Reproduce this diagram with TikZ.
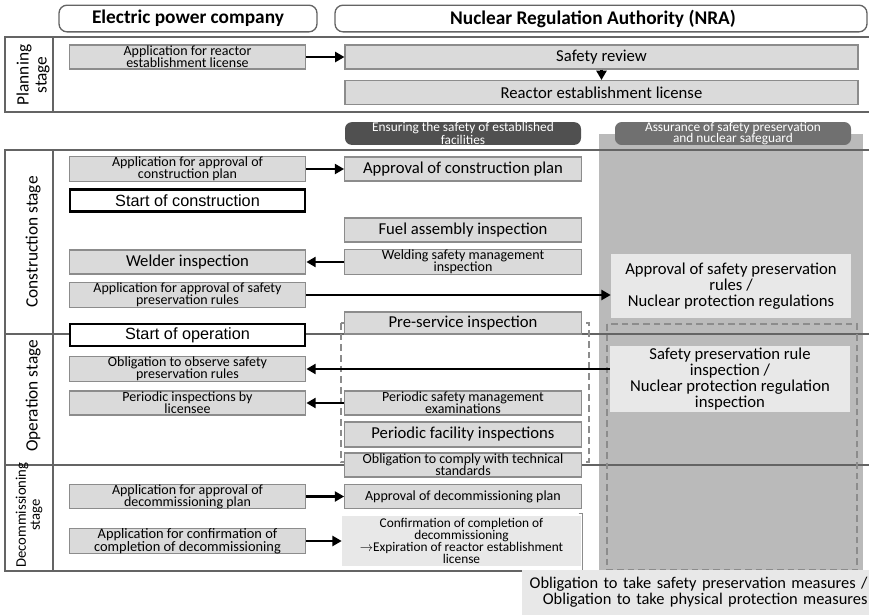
\documentclass[tikz,border=0pt]{standalone}
\usepackage{fontspec}
\setmainfont{Carlito}
\newfontfamily\arialfont{Liberation Sans}
\usetikzlibrary{arrows.meta}

\definecolor{boxfill}{RGB}{218,218,218}
\definecolor{boxline}{RGB}{140,140,140}
\definecolor{lightfill}{RGB}{232,232,232}
\definecolor{colgray}{RGB}{186,186,186}
\definecolor{headdark}{RGB}{80,80,80}
\definecolor{headmid}{RGB}{112,112,112}
\definecolor{frameline}{RGB}{100,100,100}
\definecolor{dashgray}{RGB}{140,140,140}

\tikzset{
  box/.style={rectangle, draw=boxline, fill=boxfill, line width=0.8pt, minimum width=177.5pt, minimum height=18pt, inner xsep=1pt, inner ysep=0pt, align=center, font=\fontsize{10.5}{9.2}\selectfont},
  bigtxt/.style={font=\fontsize{12.5}{12}\selectfont},
  midtxt/.style={font=\fontsize{10.5}{10}\selectfont},
  startbox/.style={rectangle, draw=black, fill=white, line width=1.6pt, minimum width=176pt, minimum height=16.5pt, inner sep=1pt, font=\arialfont\fontsize{12.2}{13}\selectfont},
  softbox/.style={rectangle, fill=lightfill, inner sep=1pt, align=center},
  headbox/.style={rectangle, rounded corners=6pt, draw=frameline, fill=white, line width=1pt, minimum height=20pt, inner ysep=0pt, font=\bfseries\fontsize{14.5}{15}\selectfont},
  colhead/.style={rectangle, rounded corners=5pt, minimum width=177pt, minimum height=17pt, inner sep=0pt, text=white, align=center, font=\fontsize{10}{8.6}\selectfont},
  stagelbl/.style={rotate=90, align=center, font=\fontsize{13}{13.5}\selectfont},
  flow/.style={-{Triangle[length=7pt,width=7.5pt]}, line width=2pt},
  frame/.style={draw=frameline, line width=1.1pt},
  dashframe/.style={draw=dashgray, line width=1.5pt, dash pattern=on 5pt off 3pt},
}

\begin{document}
\begin{tikzpicture}[x=0.75pt,y=0.75pt,yscale=-1,xscale=1]
\useasboundingbox (0,0) rectangle (869,615);

%Shape: Gray column
\fill[colgray] (599,134) rectangle (863,570);

%Straight Lines: planning frame
\draw[frame] (869,37) -- (5,37) -- (5,112) -- (869,112);
\draw[frame] (53,37) -- (53,112);
%Straight Lines: stage frame
\draw[frame] (869,150) -- (5,150) -- (5,571) -- (869,571);
\draw[frame] (53,150) -- (53,571);
\draw[draw=frameline, line width=0.9pt] (5,334) -- (869,334);
\draw[draw=frameline, line width=0.9pt] (5,465) -- (869,465);

%Dashed Rectangles
\draw[dashframe] (341,323) rectangle (589,462);
\draw[dashframe] (607,324) rectangle (857,570);

% Header Nodes
\node[headbox, minimum width=193.5pt] (epc) at (188,18.5) {Electric power company};
\node[headbox, minimum width=399pt] (nra) at (601,18.5) {Nuclear Regulation Authority (NRA)\hspace*{12pt}};

% Stage labels
\node[stagelbl] (lblPlan) at (33,75) {Planning\\stage};
\node[stagelbl] (lblCon) at (33,242) {Construction stage};
\node[stagelbl] (lblOp) at (33,396) {Operation stage};
\node[stagelbl, font=\fontsize{11}{10.5}\selectfont] (lblDec) at (29,515) {Decommissioning\\stage};

% Planning stage
\node[box] (appRel) at (187.5,57) {Application for reactor\\establishment license};
\node[box, bigtxt, minimum width=384.75pt] (safRev) at (601.5,57) {Safety review};
\node[box, bigtxt, minimum width=384.75pt] (relLic) at (601.5,92.5) {Reactor establishment license};

% Column headers
\node[colhead, fill=headdark] (ensHead) at (463,133.5) {Ensuring the safety of established\\facilities};
\node[colhead, fill=headmid] (assHead) at (733,133.5) {Assurance of safety preservation\\and nuclear safeguard};

% Construction stage
\node[box] (appCon) at (187.5,169) {Application for approval of\\construction plan};
\node[box, bigtxt] (apprCon) at (463,169) {Approval of construction plan};
\node[startbox] (startCon) at (187.5,200.5) {Start of construction};
\node[box, bigtxt] (fuelIns) at (463,230) {Fuel assembly inspection};
\node[box, bigtxt] (welder) at (187.5,262) {Welder inspection};
\node[box] (weldSafe) at (463,262) {Welding safety management\\inspection};
\node[box] (appPres) at (187.5,295) {Application for approval of safety\\preservation rules};
\node[softbox, bigtxt, minimum width=180pt, minimum height=48pt] (apprPres) at (731,286) {Approval of safety preservation\\rules /\\Nuclear protection regulations};

% Operation stage
\node[startbox, minimum height=17pt] (startOp) at (187.5,335) {Start of operation};
\node[box, bigtxt, minimum height=16.5pt] (preSvc) at (463,323) {Pre-service inspection};
\node[box] (obsRules) at (187.5,369) {Obligation to observe safety\\preservation rules};
\node[softbox, bigtxt, minimum width=180pt, minimum height=49.5pt] (presInsp) at (730,379) {Safety preservation rule\\inspection /\\Nuclear protection regulation\\inspection};
\node[box] (perLic) at (187.5,403) {Periodic inspections by\\licensee};
\node[box] (perSafe) at (463,403) {Periodic safety management\\examinations};
\node[box, bigtxt, minimum height=18.75pt] (perFac) at (463,434.5) {Periodic facility inspections};
\node[box] (techStd) at (463,465) {Obligation to comply with technical\\standards};

% Decommissioning stage
\node[box] (appDec) at (187.5,496.5) {Application for approval of\\decommissioning plan};
\node[box, midtxt] (apprDec) at (463,496.5) {Approval of decommissioning plan};
\node[box, font=\fontsize{10.8}{9.4}\selectfont] (appConf) at (187.5,541) {Application for confirmation of\\completion of decommissioning};
\node[softbox, font=\fontsize{10}{9}\selectfont, inner ysep=0pt, minimum width=179.25pt, minimum height=37.5pt] (conf) at (461.5,541) {Confirmation of completion of\\decommissioning\\$\rightarrow$Expiration of reactor establishment\\license};
\draw[boxline, line width=0.6pt] ([shift={(-2pt,-2pt)}]conf.north east) -- ([shift={(1pt,-2pt)}]conf.north east) -- ([shift={(1pt,3pt)}]conf.south east) -- ([shift={(-2pt,3pt)}]conf.south east);

% Bottom note
\node[softbox, font=\fontsize{12.3}{12}\selectfont, text width=258pt, inner xsep=1pt, minimum height=33.75pt, align=right] (oblig) at (695.5,592.5) {Obligation to take safety preservation measures /\\Obligation to take physical protection measures};

%Arrows
\draw[flow] (appRel) -- (safRev);
\draw[flow] (safRev) -- (relLic);
\draw[flow] (appCon) -- (apprCon);
\draw[flow] (weldSafe) -- (welder);
\draw[flow] (appPres.east) -- (appPres.east -| apprPres.west);
\draw[flow] (obsRules.east -| presInsp.west) -- (obsRules.east);
\draw[flow] (perSafe) -- (perLic);
\draw[flow] (appDec) -- (apprDec);
\draw[flow] (appConf) -- (conf);

\end{tikzpicture}
\end{document}
